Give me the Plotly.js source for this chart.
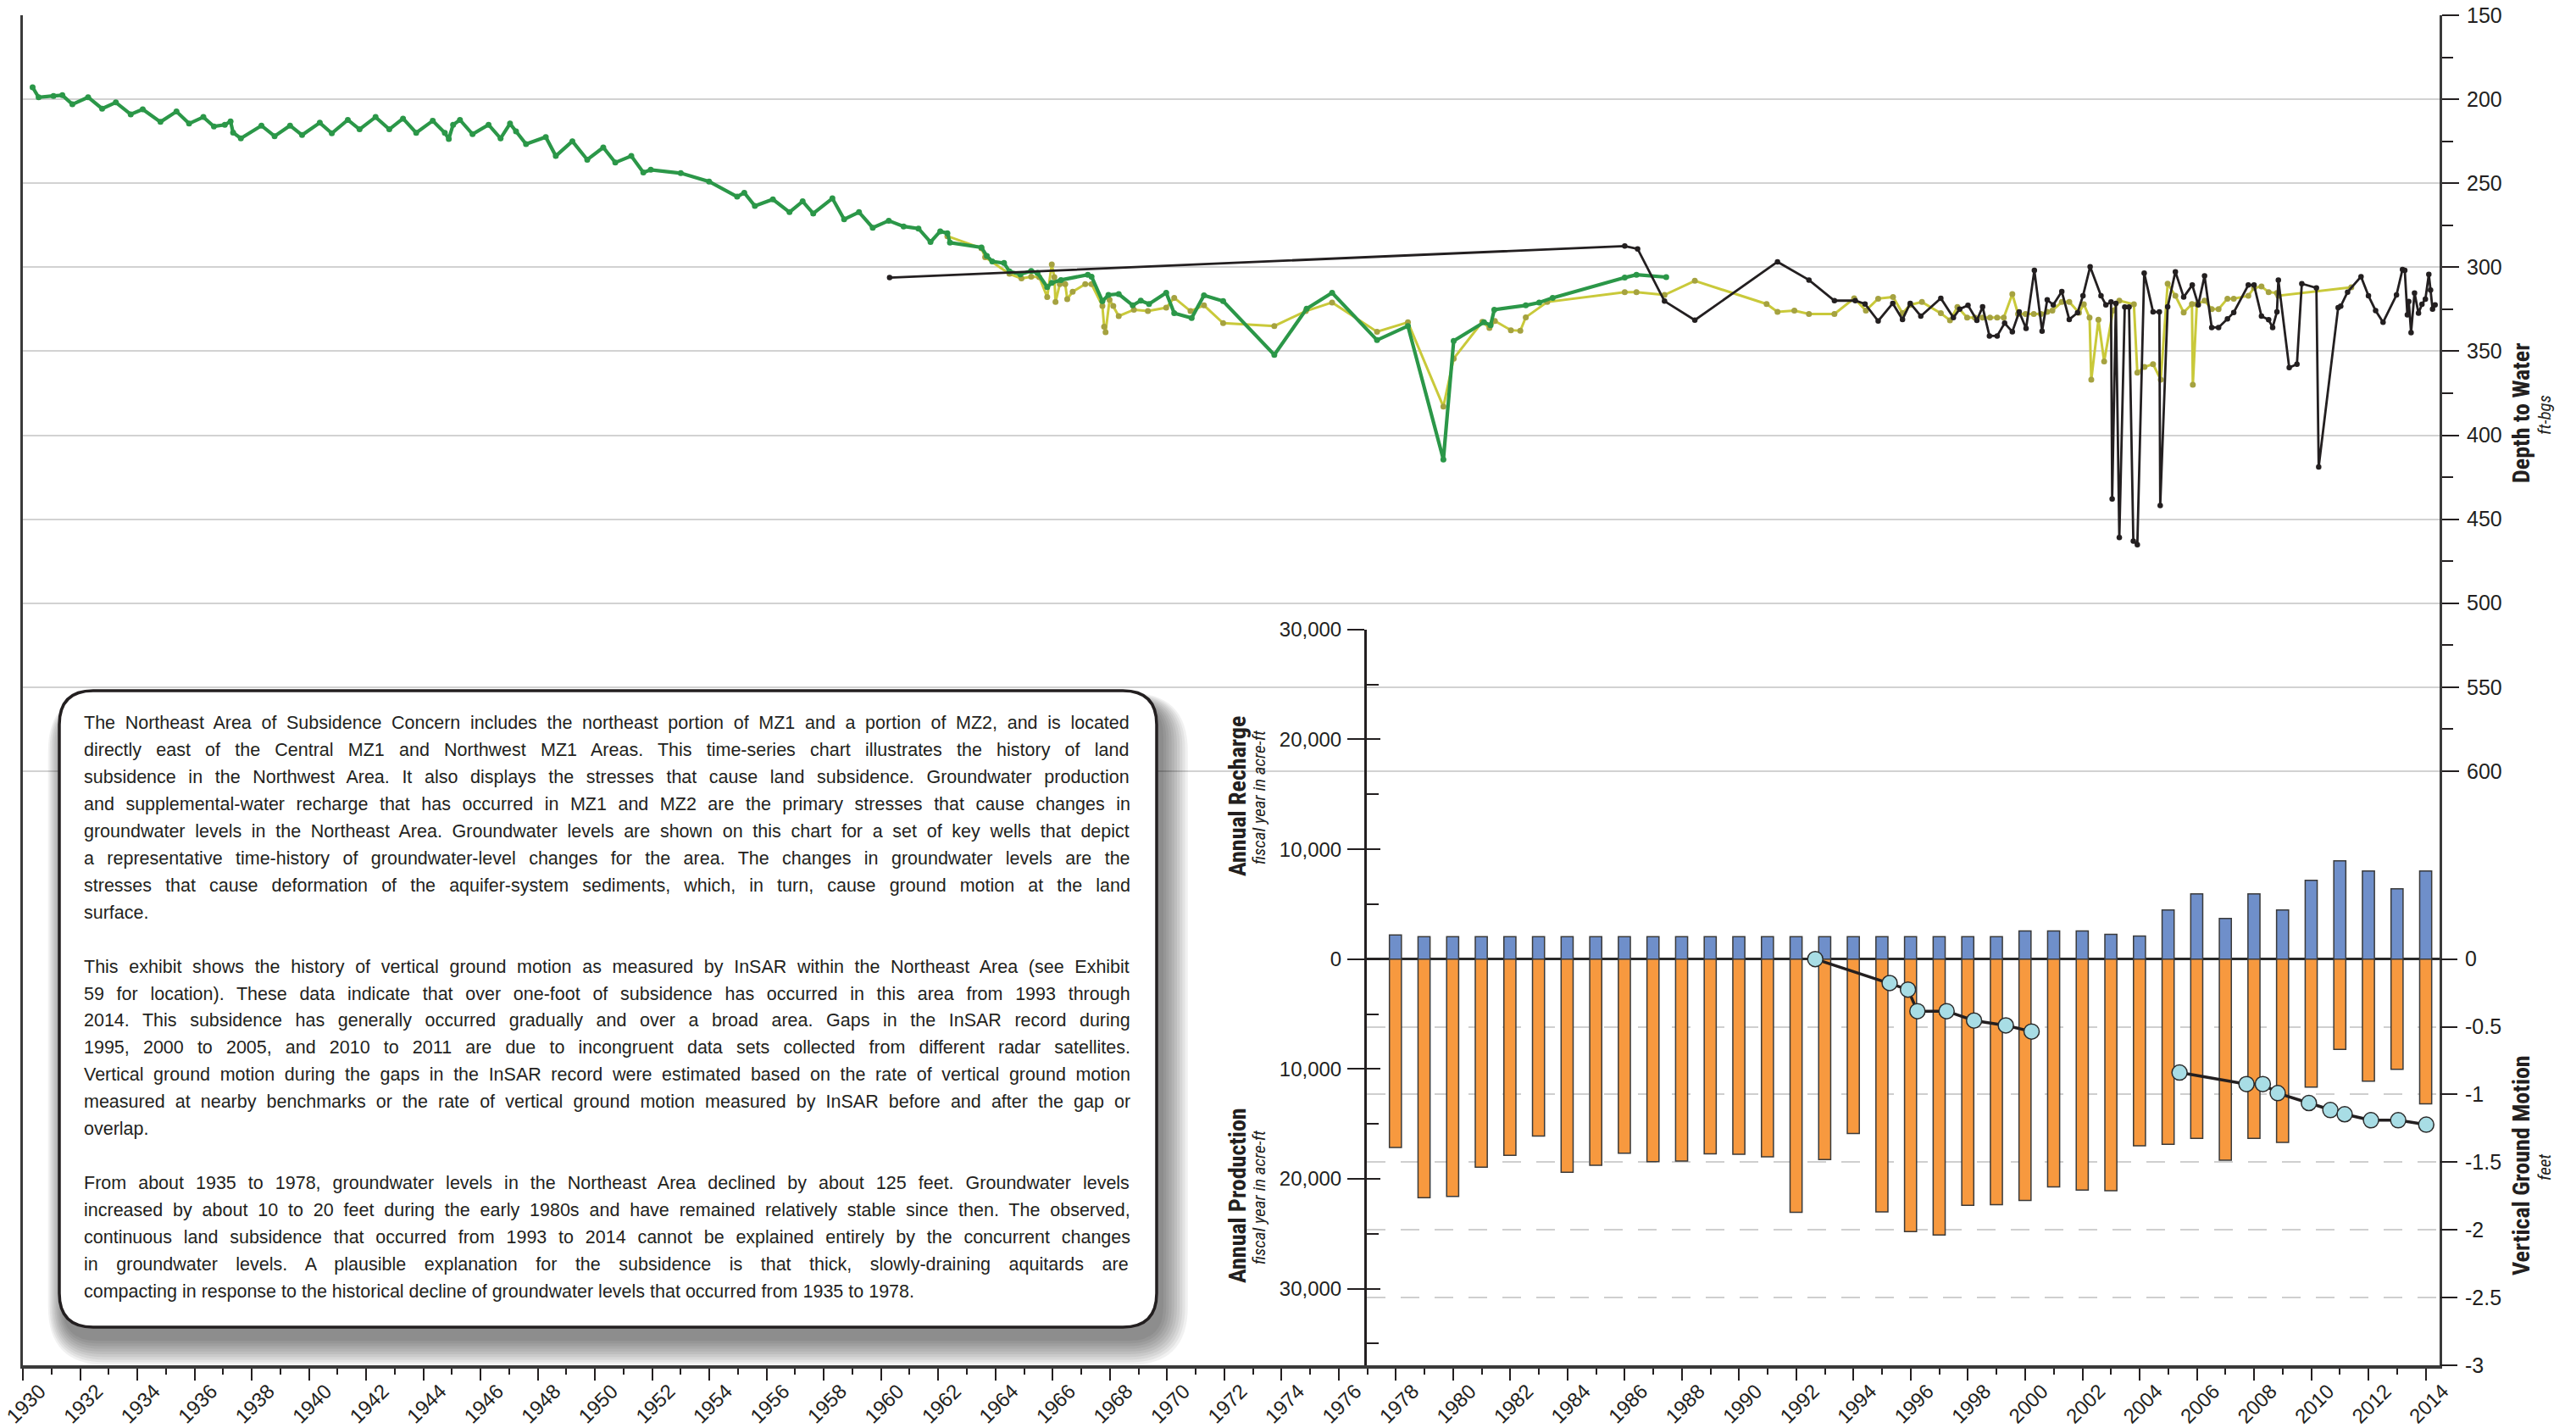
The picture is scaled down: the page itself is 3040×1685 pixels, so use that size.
<!DOCTYPE html>
<html><head><meta charset="utf-8">
<script src="https://cdn.plot.ly/plotly-3.0.1.min.js"></script>
<style>html,body{margin:0;padding:0;background:#fff;} #chart{width:3040px;height:1685px;}</style>
</head><body><div id="chart"></div>
<script>
// ---------------- DATA ----------------
// Depth to water (ft-bgs) — green well (long record)
const greenYear = [1930.34,1930.55,1931.07,1931.38,1931.73,1932.28,1932.77,1933.25,1933.77,1934.19,1934.81,1935.37,1935.81,1936.31,1936.68,1937.06,1937.26,1937.35,1937.62,1938.34,1938.80,1939.34,1939.76,1940.38,1940.80,1941.36,1941.77,1942.33,1942.81,1943.29,1943.75,1944.33,1944.75,1944.89,1945.04,1945.28,1945.72,1946.28,1946.70,1947.03,1947.24,1947.59,1948.28,1948.63,1949.21,1949.73,1950.29,1950.71,1951.27,1951.69,1951.95,1953.00,1953.99,1954.97,1955.22,1955.59,1956.22,1956.80,1957.26,1957.63,1958.30,1958.71,1959.23,1959.71,1960.27,1960.79,1961.31,1961.73,1962.07,1962.32,1962.41,1963.51,1963.70,1963.89,1964.30,1964.49,1964.87,1965.25,1965.47,1965.81,1965.97,1966.29,1967.23,1967.36,1967.74,1967.95,1968.31,1968.80,1969.08,1969.37,1969.97,1970.25,1970.86,1971.29,1971.96,1973.75,1974.88,1975.77,1977.34,1978.42,1979.66,1980.02,1981.08,1981.31,1981.44,1982.54,1983.01,1983.48,1986.00,1986.41,1987.45];
const greenDepth = [192.9,198.8,198.0,197.6,203.0,198.8,205.6,201.9,209.0,206.0,213.5,207.3,214.5,210.6,216.2,215.2,213.2,219.9,223.3,215.7,222.0,215.7,221.3,214.0,220.3,212.3,217.9,210.6,217.9,211.5,220.0,212.8,220.0,223.6,215.2,212.3,220.8,215.2,223.3,214.5,219.1,226.7,222.5,233.8,225.0,236.0,228.7,237.7,233.8,243.6,242.0,244.0,249.0,258.0,255.7,263.5,259.6,267.2,260.8,268.0,259.0,271.5,267.2,276.5,272.3,275.7,277.0,285.0,278.6,279.8,285.4,288.2,293.3,296.6,297.5,302.5,304.2,302.2,303.4,311.8,309.3,307.6,304.5,305.6,320.2,316.5,316.0,322.7,319.9,321.9,315.2,327.4,330.3,316.8,320.2,352.2,324.7,315.2,343.4,335.0,414.5,343.8,332.8,334.5,325.3,322.7,321.0,318.2,306.2,304.5,305.9];

// Yellow-olive well
const yellowYear = [1962.32,1963.51,1963.64,1964.49,1964.91,1965.25,1965.53,1965.81,1965.97,1966.06,1966.10,1966.25,1966.44,1966.51,1966.70,1967.14,1967.36,1967.74,1967.80,1967.85,1967.99,1968.12,1968.31,1968.84,1969.33,1969.97,1970.25,1970.82,1971.29,1971.96,1973.75,1974.85,1975.77,1977.34,1978.42,1979.66,1980.02,1981.02,1981.27,1981.46,1982.02,1982.35,1982.54,1983.29,1986.00,1986.41,1987.39,1988.45,1990.96,1991.34,1991.93,1992.44,1993.33,1994.02,1994.43,1994.86,1995.38,1995.71,1995.98,1996.39,1997.05,1997.37,1997.63,1997.97,1998.24,1998.51,1998.77,1999.02,1999.25,1999.55,1999.75,2000.01,2000.30,2000.55,2000.77,2000.95,2001.28,2001.54,2001.88,2002.05,2002.25,2002.31,2002.56,2002.76,2003.07,2003.29,2003.80,2003.92,2004.17,2004.47,2004.74,2004.98,2005.25,2005.54,2005.83,2005.86,2006.00,2006.27,2006.52,2006.76,2007.07,2007.29,2007.80,2008.00,2008.26,2008.51,2008.80,2008.85,2011.40];
const yellowDepth = [281.5,288.7,294.1,303.9,306.7,305.6,305.9,317.7,298.3,305.9,320.7,310.1,310.1,319.0,314.6,310.1,310.1,323.1,335.4,338.7,319.4,323.1,329.1,325.3,326.1,324.1,318.2,326.1,322.7,333.3,335.0,326.1,321.0,338.4,332.8,383.0,354.4,332.5,336.2,332.0,337.5,337.8,329.8,320.7,314.8,314.8,316.5,308.1,321.9,326.6,325.8,327.8,327.8,318.5,325.8,318.7,317.7,327.4,322.4,320.7,327.4,331.6,323.7,330.0,330.0,330.0,330.0,330.0,330.0,316.0,327.8,327.8,327.8,327.8,326.6,325.8,320.7,320.7,327.1,322.1,330.0,367.0,331.3,356.1,325.8,319.9,322.1,362.8,359.4,357.7,367.0,309.8,317.0,326.9,321.9,370.0,322.1,319.9,324.9,324.9,318.7,318.7,317.0,312.3,311.5,314.8,315.3,317.0,312.0];

// Black well
const blackYear = [1960.30,1986.00,1986.45,1987.39,1988.45,1991.34,1992.44,1993.33,1994.06,1994.40,1994.86,1995.37,1995.71,1995.98,1996.35,1997.05,1997.49,1997.71,1998.00,1998.31,1998.51,1998.75,1999.02,1999.28,1999.55,1999.79,2000.03,2000.32,2000.59,2000.77,2000.98,2001.28,2001.54,2001.83,2002.02,2002.27,2002.65,2002.82,2003.00,2003.04,2003.17,2003.29,2003.48,2003.63,2003.78,2003.92,2004.16,2004.47,2004.69,2004.72,2004.98,2005.25,2005.54,2005.84,2006.05,2006.27,2006.52,2006.76,2007.07,2007.29,2007.80,2008.00,2008.26,2008.51,2008.65,2008.80,2008.85,2009.23,2009.50,2009.67,2010.18,2010.26,2010.94,2011.03,2011.27,2011.74,2012.00,2012.25,2012.51,2012.98,2013.19,2013.27,2013.36,2013.41,2013.49,2013.61,2013.75,2013.87,2013.99,2014.11,2014.17,2014.24,2014.33];
const blackDepth = [306.2,287.4,289.1,320.2,331.5,296.8,307.6,319.9,319.9,321.9,332.0,321.5,331.1,321.5,329.1,318.5,330.0,324.9,322.7,331.6,323.6,340.9,340.9,333.3,338.4,326.6,336.4,301.9,338.0,319.4,322.4,314.5,331.1,327.1,317.0,299.7,317.0,322.4,320.7,438.0,321.5,460.9,323.7,323.7,463.0,465.2,303.5,326.6,326.6,441.9,323.6,302.7,317.8,310.6,322.4,305.2,335.9,335.9,330.8,326.9,310.6,310.6,329.1,331.3,335.9,326.6,307.6,359.8,357.7,309.8,312.3,418.9,324.1,323.2,314.8,305.6,317.0,325.8,332.8,316.5,301.3,301.9,328.3,320.4,338.9,315.3,327.4,322.0,319.0,304.2,313.6,324.9,322.4];

// Annual recharge / production (acre-ft, fiscal year)
const barYears = [1978,1979,1980,1981,1982,1983,1984,1985,1986,1987,1988,1989,1990,1991,1992,1993,1994,1995,1996,1997,1998,1999,2000,2001,2002,2003,2004,2005,2006,2007,2008,2009,2010,2011,2012,2013,2014];
const recharge = [2200,2050,2050,2050,2050,2050,2050,2050,2050,2050,2050,2050,2050,2050,2050,2050,2050,2050,2050,2050,2050,2050,2570,2570,2570,2260,2110,4470,5940,3700,5940,4470,7170,8940,8020,6400,8020];
const production = [17140,21720,21590,18940,17860,16110,19400,18760,17660,18430,18380,17730,17760,17990,23050,18250,15880,23000,24800,25110,22410,22360,21970,20740,21020,21070,16990,16860,16320,18300,16320,16680,11640,8220,11100,10020,13180];

// Vertical ground motion (feet), InSAR; null = gap
const gmYear = [1992.67,1995.27,1995.91,1996.24,1997.26,1998.22,1999.33,2000.23,2002.8,2005.40,2007.74,2008.31,2008.83,2009.92,2010.67,2011.17,2012.09,2013.04,2014.02];
const gmFeet = [0,-0.177,-0.225,-0.385,-0.385,-0.454,-0.49,-0.535,null,-0.838,-0.923,-0.923,-0.99,-1.063,-1.115,-1.146,-1.19,-1.19,-1.223];

// Tick labels
const yearTickVals = [1930,1932,1934,1936,1938,1940,1942,1944,1946,1948,1950,1952,1954,1956,1958,1960,1962,1964,1966,1968,1970,1972,1974,1976,1978,1980,1982,1984,1986,1988,1990,1992,1994,1996,1998,2000,2002,2004,2006,2008,2010,2012,2014];
const yearTickText = ['1930','1932','1934','1936','1938','1940','1942','1944','1946','1948','1950','1952','1954','1956','1958','1960','1962','1964','1966','1968','1970','1972','1974','1976','1978','1980','1982','1984','1986','1988','1990','1992','1994','1996','1998','2000','2002','2004','2006','2008','2010','2012','2014'];
const depthTickVals = [150,200,250,300,350,400,450,500,550,600];
const depthTickText = ['150','200','250','300','350','400','450','500','550','600'];
const depthGridVals = [200,250,300,350,400,450,500,550,600];
const depthMinorVals = [175,225,275,325,375,425,475,525,575];
const gmTickVals = [0,-0.5,-1,-1.5,-2,-2.5,-3];
const gmTickText = ['0','-0.5','-1','-1.5','-2','-2.5','-3'];
const barTickVals = [30000,20000,10000,0,-10000,-20000,-30000];
const barTickText = ['30,000','20,000','10,000','0','10,000','20,000','30,000'];
const barMinorVals = [25000,15000,5000,-5000,-15000,-25000,-35000];

const noteLines = [
'The Northeast Area of Subsidence Concern includes the northeast portion of MZ1 and a portion of MZ2, and is located',
'directly east of the Central MZ1 and Northwest MZ1 Areas.  This time-series chart illustrates the history of land',
'subsidence in the Northwest Area.  It also displays the stresses that cause land subsidence. Groundwater production',
'and supplemental-water recharge that has occurred in MZ1 and MZ2 are the primary stresses that cause changes in',
'groundwater levels in the Northeast Area.  Groundwater levels are shown on this chart for a set of key wells that depict',
'a representative time-history of groundwater-level changes for the area.  The changes in groundwater levels are the',
'stresses that cause deformation of the aquifer-system sediments, which, in turn, cause ground motion at the land',
'surface.',
'',
'This exhibit shows the history of vertical ground motion as measured by InSAR within the Northeast Area (see Exhibit',
'59 for location).  These data indicate that over one-foot of subsidence has occurred in this area from 1993 through',
'2014. This subsidence has generally occurred gradually and over a broad area. Gaps in the InSAR record during',
'1995, 2000 to 2005, and 2010 to 2011 are due to incongruent data sets collected from different radar satellites.',
'Vertical ground motion during the gaps in the InSAR record were estimated based on the rate of vertical ground motion',
'measured at nearby benchmarks or the rate of vertical ground motion measured by InSAR before and after the gap or',
'overlap.',
'',
'From about 1935 to 1978, groundwater levels in the Northeast Area declined by about 125 feet. Groundwater levels',
'increased by about 10 to 20 feet during the early 1980s and have remained relatively stable since then. The observed,',
'continuous land subsidence that occurred from 1993 to 2014 cannot be explained entirely by the concurrent changes',
'in groundwater levels. A plausible explanation for the subsidence is that thick, slowly-draining aquitards are',
'compacting in response to the historical decline of groundwater levels that occurred from 1935 to 1978.'
];

// ---------------- LAYOUT GEOMETRY ----------------
const W = 3040, H = 1685, ML = 27, MR = 161, MT = 18, MB = 74;
const PW = W - ML - MR, PH = H - MT - MB;
const px = x => (x - ML) / PW;
const py = y => (H - MB - y) / PH;

const DEPTH_RANGE = [953.7, 150];
const BAR_DOMAIN_TOP = 0.545;
const BAR_RANGE = [-36969, 30000];
const GM_RANGE = [-3, 2.434];
const X_RANGE = [1930, 2014.486];
const X2_DOMAIN_START = 0.5561;

const INK = '#231f20';
const SANS = 'Liberation Sans, Arial, Helvetica, sans-serif';
const NARROW = 'Liberation Sans Narrow, Arial Narrow, Roboto Condensed, DejaVu Sans Condensed, sans-serif';

function roundRectPath(x0, y0, x1, y1, r) {
  const P = (x, y) => px(x).toFixed(5) + ',' + py(y).toFixed(5);
  return 'M' + P(x0 + r, y0) + ' L' + P(x1 - r, y0) + ' Q' + P(x1, y0) + ' ' + P(x1, y0 + r) +
    ' L' + P(x1, y1 - r) + ' Q' + P(x1, y1) + ' ' + P(x1 - r, y1) +
    ' L' + P(x0 + r, y1) + ' Q' + P(x0, y1) + ' ' + P(x0, y1 - r) +
    ' L' + P(x0, y0 + r) + ' Q' + P(x0, y0) + ' ' + P(x0 + r, y0) + ' Z';
}

const BOX = {x0: 70, y0: 815, x1: 1365, y1: 1566, r: 40};
const shapes = [];
for (let k = 9; k >= 0; k--) {
  const g = k * 3.2;
  shapes.push({type: 'path', xref: 'paper', yref: 'paper', layer: 'above',
    path: roundRectPath(BOX.x0 + 4 - g * 0.6, BOX.y0 + 14 - g * 0.4, BOX.x1 + 8 + g, BOX.y1 + 16 + g, BOX.r + g),
    fillcolor: 'rgba(0,0,0,0.055)', line: {width: 0}});
}
shapes.push({type: 'path', xref: 'paper', yref: 'paper', layer: 'above',
  path: roundRectPath(BOX.x0, BOX.y0, BOX.x1, BOX.y1, BOX.r),
  fillcolor: '#ffffff', line: {color: INK, width: 3.5}});

// ---------------- TRACES ----------------
const traces = [
  {type: 'scatter', mode: 'lines+markers', x: yellowYear, y: yellowDepth, xaxis: 'x', yaxis: 'y',
   line: {color: '#c9c93a', width: 3}, marker: {color: '#a5a240', size: 7}, hoverinfo: 'skip'},
  {type: 'scatter', mode: 'lines+markers', x: greenYear, y: greenDepth, xaxis: 'x', yaxis: 'y',
   line: {color: '#2b9748', width: 4.2}, marker: {color: '#2b9748', size: 7}, hoverinfo: 'skip'},
  {type: 'scatter', mode: 'lines+markers', x: blackYear, y: blackDepth, xaxis: 'x', yaxis: 'y',
   line: {color: INK, width: 2.8}, marker: {color: INK, size: 6.5}, hoverinfo: 'skip'},
  // empty traces so the labelled depth axis (y4) and the inner bar-axis ticks (y5) get their subplots drawn
  {type: 'scatter', mode: 'lines', x: [], y: [], xaxis: 'x', yaxis: 'y4', hoverinfo: 'skip'},
  {type: 'scatter', mode: 'lines', x: [], y: [], xaxis: 'x2', yaxis: 'y5', hoverinfo: 'skip'},
  {type: 'bar', x: barYears, y: recharge, xaxis: 'x2', yaxis: 'y2', width: 0.42,
   marker: {color: '#6f8fca', line: {color: '#3a3a3a', width: 1.5}}, hoverinfo: 'skip'},
  {type: 'bar', x: barYears, y: production.map(v => -v), xaxis: 'x2', yaxis: 'y2', width: 0.42,
   marker: {color: '#f7993f', line: {color: '#3a3a3a', width: 1.5}}, hoverinfo: 'skip'},
  {type: 'scatter', mode: 'lines+markers', x: gmYear, y: gmFeet, xaxis: 'x2', yaxis: 'y3', connectgaps: false,
   line: {color: INK, width: 3.5}, marker: {color: '#a8dde5', size: 18, line: {color: '#2b2b2b', width: 1.5}},
   hoverinfo: 'skip'}
];

const tickFont = {family: SANS, size: 25, color: INK};

// ---- justified note text (one annotation per line) ----
const NOTE_SIZE = 21.5, NOTE_LEFT = 97, NOTE_WIDTH = 1235, NOTE_TOP = 853, NOTE_PITCH = 31.95;
const measureCtx = document.createElement('canvas').getContext('2d');
measureCtx.font = NOTE_SIZE + 'px "Liberation Sans", Arial, sans-serif';
const annotations = [];
noteLines.forEach((raw, i) => {
  if (raw === '') return;
  const line = raw.replace(/ {2,}/g, ' ');
  const isLast = (i === noteLines.length - 1) || noteLines[i + 1] === '';
  let text = line;
  if (!isLast) {
    const spaces = (line.match(/ /g) || []).length;
    const w = measureCtx.measureText(line).width;
    const ws = spaces ? (NOTE_WIDTH - w) / spaces : 0;
    text = '<span style="word-spacing:' + ws.toFixed(2) + 'px">' + line + '</span>';
  }
  annotations.push({xref: 'paper', yref: 'paper', x: px(NOTE_LEFT), y: py(NOTE_TOP + i * NOTE_PITCH),
    xanchor: 'left', yanchor: 'middle', align: 'left', showarrow: false, text: text,
    font: {family: SANS, size: NOTE_SIZE, color: INK}});
});

const titleAnn = (x, y, text, size) => ({xref: 'paper', yref: 'paper', x: px(x), y: py(y), textangle: -90,
  showarrow: false, xanchor: 'center', yanchor: 'middle', text: text, font: {family: NARROW, size: size, color: INK}});
annotations.push(
  titleAnn(2976, 488, '<b>Depth to Water</b>', 28),
  titleAnn(3003, 490, '<i>ft-bgs</i>', 21),
  titleAnn(2975, 1375, '<b>Vertical Ground Motion</b>', 28),
  titleAnn(3003, 1377, '<i>feet</i>', 21),
  titleAnn(1460, 940, '<b>Annual Recharge</b>', 28),
  titleAnn(1486, 940, '<i>fiscal year in acre-ft</i>', 21),
  titleAnn(1460, 1411, '<b>Annual Production</b>', 28),
  titleAnn(1486, 1412, '<i>fiscal year in acre-ft</i>', 21)
);

const layout = {
  width: W, height: H,
  margin: {l: ML, r: MR, t: MT, b: MB, pad: 0},
  paper_bgcolor: '#ffffff', plot_bgcolor: 'rgba(0,0,0,0)',
  showlegend: false, barmode: 'relative', bargap: 0,
  font: {family: SANS, color: INK},
  xaxis: {domain: [0, 1], range: X_RANGE, anchor: 'y', tickmode: 'array', tickvals: yearTickVals, ticktext: yearTickText,
    tickangle: -45, tickfont: {family: SANS, size: 24, color: INK}, ticklabelshift: 20, ticklabelstandoff: -11,
    ticks: 'outside', ticklen: 14, tickwidth: 2, tickcolor: INK,
    minor: {tickmode: 'linear', tick0: 1930, dtick: 1, ticks: 'outside', ticklen: 7, tickwidth: 2, tickcolor: INK, showgrid: false},
    showline: true, linecolor: '#3a3a3a', linewidth: 4, showgrid: false, zeroline: false},
  yaxis: {domain: [0, 1], range: DEPTH_RANGE, anchor: 'x', side: 'right', tickmode: 'array', tickvals: depthGridVals,
    showticklabels: false, ticks: '', showline: false, zeroline: false,
    showgrid: true, gridcolor: '#d2d2d2', gridwidth: 2},
  yaxis4: {overlaying: 'y', range: DEPTH_RANGE, anchor: 'x', side: 'right', tickmode: 'array',
    tickvals: depthTickVals, ticktext: depthTickText, tickfont: tickFont, ticklabelstandoff: 4,
    ticks: 'outside', ticklen: 20, tickwidth: 2, tickcolor: INK,
    minor: {tickmode: 'array', tickvals: depthMinorVals, ticks: 'outside', ticklen: 13, tickwidth: 2, tickcolor: INK, showgrid: false},
    showline: true, mirror: true, linecolor: '#3a3a3a', linewidth: 3, showgrid: false, zeroline: false},
  xaxis2: {domain: [X2_DOMAIN_START, 1], range: [1977, X_RANGE[1]], anchor: 'y2', visible: false},
  yaxis2: {domain: [0, BAR_DOMAIN_TOP], range: BAR_RANGE, anchor: 'x2', side: 'left', tickmode: 'array',
    tickvals: barTickVals, ticktext: barTickText, tickfont: {family: SANS, size: 24, color: INK}, ticklabelstandoff: 2,
    ticks: 'outside', ticklen: 20, tickwidth: 2, tickcolor: INK,
    minor: {tickmode: 'array', tickvals: barMinorVals, ticks: 'inside', ticklen: 14, tickwidth: 2, tickcolor: INK, showgrid: false},
    showline: true, linecolor: INK, linewidth: 3, showgrid: false,
    zeroline: true, zerolinecolor: '#2a2a2a', zerolinewidth: 2.5},
  yaxis5: {overlaying: 'y2', range: BAR_RANGE, anchor: 'x2', side: 'left', tickmode: 'array',
    tickvals: barTickVals, showticklabels: false, ticks: 'inside', ticklen: 16, tickwidth: 2, tickcolor: INK,
    showline: false, showgrid: false, zeroline: false},
  yaxis3: {overlaying: 'y2', range: GM_RANGE, anchor: 'x2', side: 'right', tickmode: 'array',
    tickvals: gmTickVals, ticktext: gmTickText, tickfont: tickFont, ticklabelstandoff: 4,
    ticks: 'outside', ticklen: 20, tickwidth: 2, tickcolor: INK,
    showline: false, zeroline: false,
    showgrid: true, gridcolor: '#cfcfcf', gridwidth: 2, griddash: '22px,18px'},
  shapes: shapes,
  annotations: annotations
};

Plotly.newPlot('chart', traces, layout, {displayModeBar: false, staticPlot: true, responsive: false});
</script></body></html>
